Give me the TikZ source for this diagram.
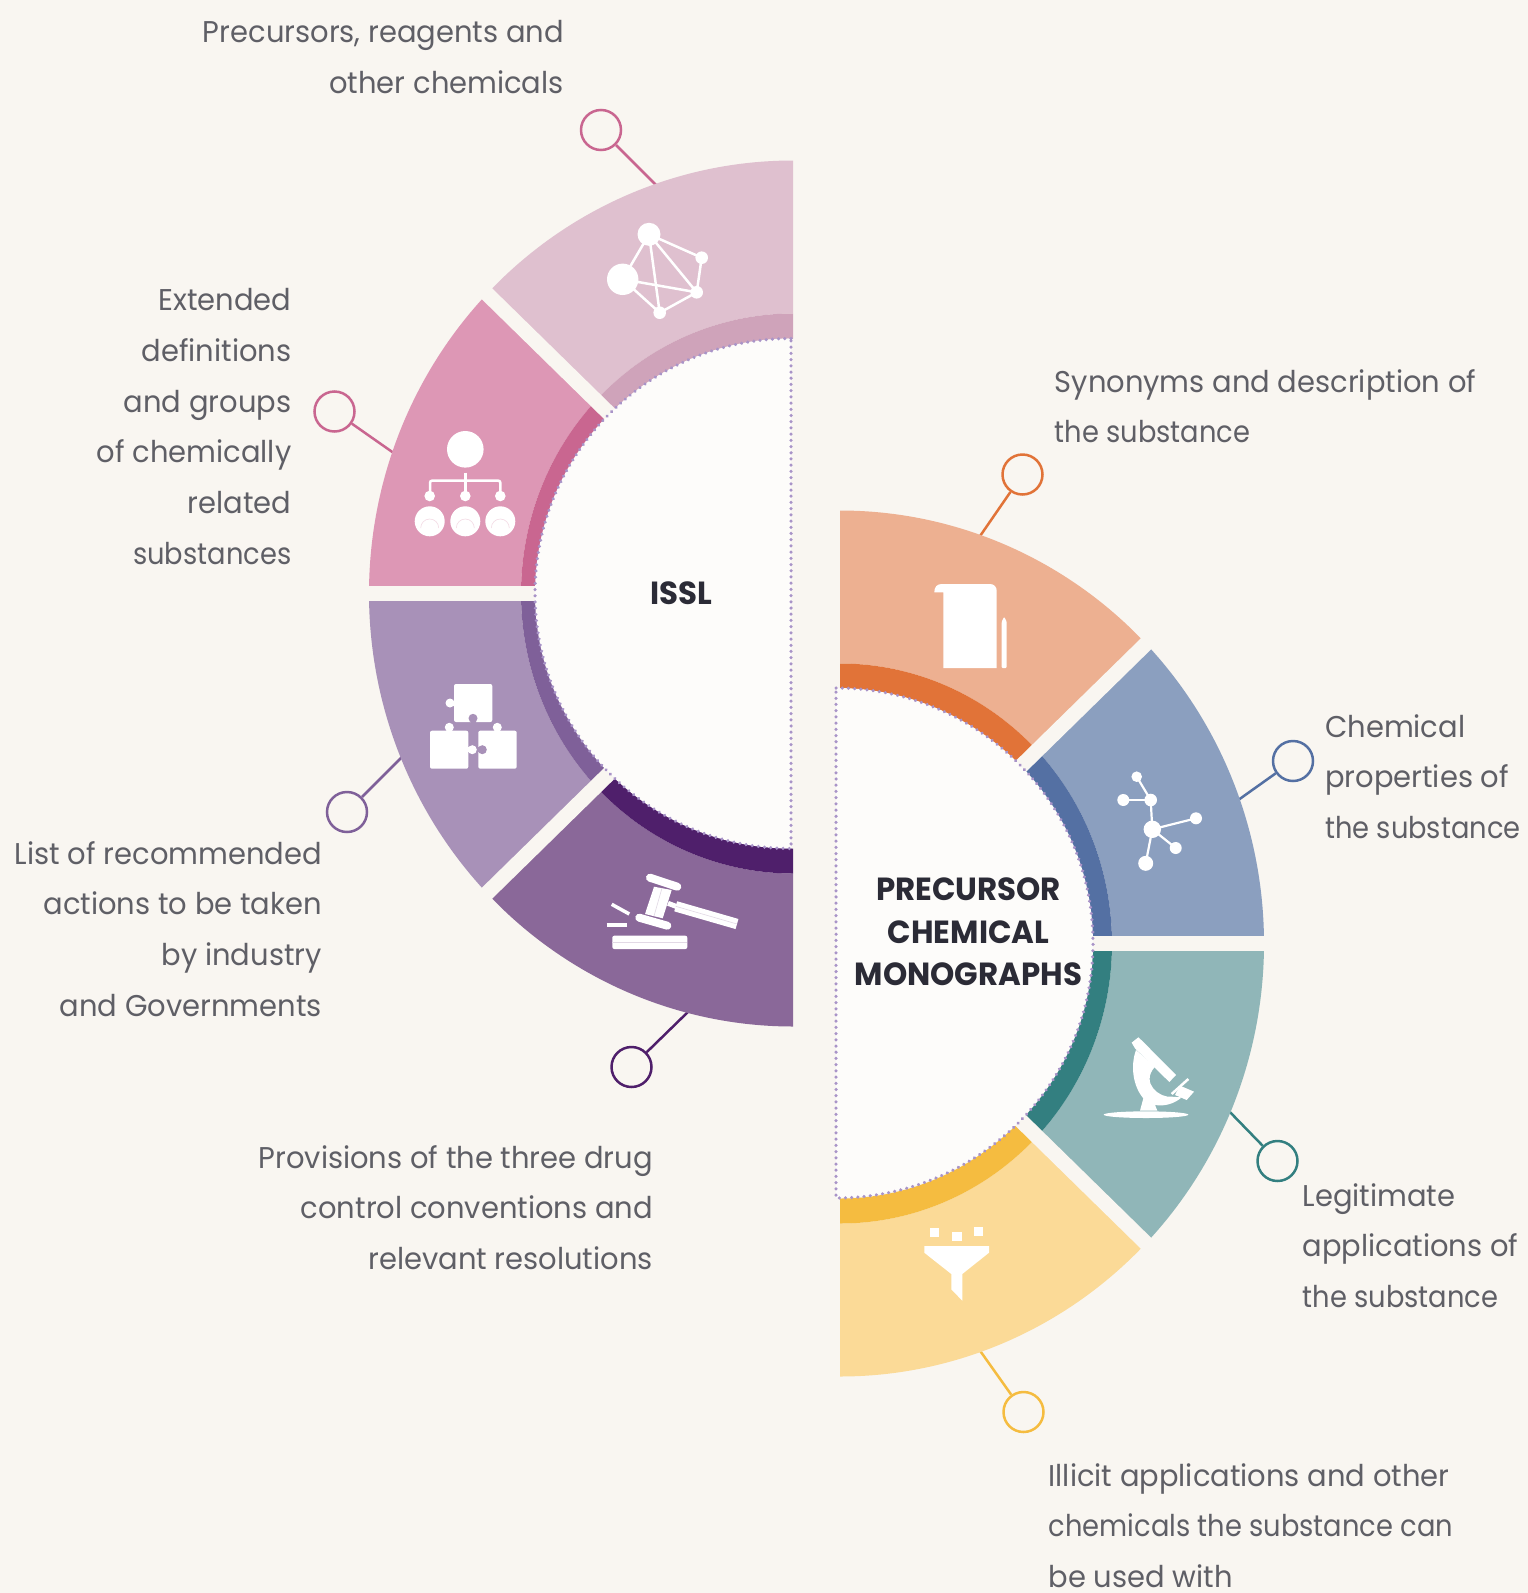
\documentclass[tikz,border=0pt]{standalone}
\usepackage{fontspec}
\setmainfont[FakeStretch=0.965]{Poppins}
\newfontfamily\narrowface[FakeStretch=0.91]{Poppins}
\usetikzlibrary{calc}
\definecolor{pagebg}{HTML}{F9F6F1}
\definecolor{discbg}{HTML}{FDFCFA}
\definecolor{dotc}{HTML}{A994C8}
\definecolor{segA}{HTML}{DFC0CF}
\definecolor{bandA}{HTML}{CFA3BA}
\definecolor{segB}{HTML}{DD97B5}
\definecolor{bandB}{HTML}{C96690}
\definecolor{segC}{HTML}{A891B8}
\definecolor{bandC}{HTML}{7F6099}
\definecolor{segD}{HTML}{8A6899}
\definecolor{bandD}{HTML}{4F1F6B}
\definecolor{segE}{HTML}{EDB091}
\definecolor{bandE}{HTML}{E17338}
\definecolor{segF}{HTML}{8B9FBF}
\definecolor{bandF}{HTML}{5470A3}
\definecolor{segG}{HTML}{90B6B8}
\definecolor{bandG}{HTML}{337F80}
\definecolor{segH}{HTML}{FBDA97}
\definecolor{bandH}{HTML}{F5BC40}
\definecolor{textc}{HTML}{5F5F66}
\definecolor{headc}{HTML}{2B2B36}
\tikzset{
  marker/.style={circle, draw=#1, line width=2.5pt, minimum size=40pt, inner sep=0pt},
  leader/.style={draw=#1, line width=2.5pt},
  labelleft/.style={anchor=north east, align=right, inner sep=0pt, text=textc,
    font=\fontsize{30}{50.8}\selectfont},
  labelright/.style={anchor=north west, align=left, inner sep=0pt, text=textc,
    font=\fontsize{30}{50.8}\selectfont},
  headnode/.style={align=center, inner sep=0pt, text=headc,
    font=\fontsize{32}{42.7}\selectfont\bfseries},
  gapline/.style={draw=pagebg, line width=15pt},
  disc/.style={fill=discbg},
  dotline/.style={draw=dotc, line width=3.5pt, line cap=round, dash pattern=on 0.01pt off 6.2pt},
  iconline/.style={draw=white, line width=#1}
}
\begin{document}
\begin{tikzpicture}[x=1pt,y=-1pt]
  \fill[pagebg] (0,0) rectangle (1528,1593);
  \useasboundingbox (0,0) rectangle (1528,1593);
  \coordinate (leftc) at (793,593.5);
  \coordinate (rightc) at (840,943.5);

  % markers and leaders
  \node[marker=bandB] (m1) at (601,130) {};
  \node[marker=bandB] (m2) at (334.5,411.5) {};
  \node[marker=bandC] (m3) at (347,812) {};
  \node[marker=bandD] (m4) at (631.5,1067) {};
  \node[marker=bandE] (m5) at (1022.5,474.5) {};
  \node[marker=bandF] (m6) at (1293,761) {};
  \node[marker=bandG] (m7) at (1277.5,1161) {};
  \node[marker=bandH] (m8) at (1023.5,1412) {};
  \coordinate (e1) at (661,190);
  \coordinate (e2) at (398,456);
  \coordinate (e3) at (405,754);
  \coordinate (e4) at (692,1008);
  \coordinate (e5) at (978,539);
  \coordinate (e6) at (1234,803);
  \coordinate (e7) at (1226,1108);
  \coordinate (e8) at (976,1345);
  \foreach \a/\c in {1/bandB,2/bandB,3/bandC,4/bandD,5/bandE,6/bandF,7/bandG,8/bandH}
    \draw[leader=\c] (m\a) -- (e\a);

  % ring parts
  \foreach \ta/\tb/\sc/\bc in {270/223.8/segA/bandA,223.8/180/segB/bandB,180/136.2/segC/bandC,136.2/90/segD/bandD}{
    \fill[\sc] ($(leftc)+(\ta:424 and 433)$) arc[start angle=\ta,end angle=\tb,x radius=424,y radius=433]
      -- ($(leftc)+(\tb:272 and 280)$) arc[start angle=\tb,end angle=\ta,x radius=272,y radius=280] -- cycle;
    \fill[\bc] ($(leftc)+(\ta:272 and 280)$) arc[start angle=\ta,end angle=\tb,x radius=272,y radius=280]
      -- ($(leftc)+(\tb:256 and 255)$) arc[start angle=\tb,end angle=\ta,x radius=256,y radius=255] -- cycle;
  }
  \foreach \ta/\tb/\sc/\bc in {-90/-43.8/segE/bandE,-43.8/0/segF/bandF,0/43.8/segG/bandG,43.8/90/segH/bandH}{
    \fill[\sc] ($(rightc)+(\ta:424 and 433)$) arc[start angle=\ta,end angle=\tb,x radius=424,y radius=433]
      -- ($(rightc)+(\tb:272 and 280)$) arc[start angle=\tb,end angle=\ta,x radius=272,y radius=280] -- cycle;
    \fill[\bc] ($(rightc)+(\ta:272 and 280)$) arc[start angle=\ta,end angle=\tb,x radius=272,y radius=280]
      -- ($(rightc)+(\tb:250 and 255)$) arc[start angle=\tb,end angle=\ta,x radius=250,y radius=255] -- cycle;
  }
  % gaps between the parts
  \draw[gapline] (leftc) -- ++(-340,-333);
  \draw[gapline] (leftc) -- ++(-340,333);
  \draw[gapline] (leftc) -- ++(-440,0);
  \draw[gapline] (rightc) -- ++(340,-333);
  \draw[gapline] (rightc) -- ++(340,333);
  \draw[gapline] (rightc) -- ++(440,0);

  % discs
  \fill[disc] (791,338.5) arc[start angle=270,end angle=90,x radius=256,y radius=255] -- cycle;
  \fill[disc] (836,688) arc[start angle=-90,end angle=90,x radius=257,y radius=255] -- cycle;
  \draw[dotline] (791,338.5) arc[start angle=270,end angle=90,x radius=256,y radius=255] -- cycle;
  \draw[dotline] (836,688) arc[start angle=-90,end angle=90,x radius=257,y radius=255] -- cycle;

  \node[headnode] (issl) at (681,593) {ISSL};
  \node[headnode] (pcm) at (968.5,932) {PRECURSOR\\CHEMICAL\\MONOGRAPHS};

  % labels
  \node[labelleft] (t1) at (564,20) {Precursors, reagents and\\other chemicals};
  \node[labelleft] (t2) at (291.5,288) {Extended\\definitions\\and groups\\of chemically\\related\\{\narrowface substances}};
  \node[labelleft] (t3) at (322,841) {List of recommended\\actions to be taken\\by industry\\and Governments};
  \node[labelleft] (t4) at (653,1145) {Provisions of the three drug\\control conventions and\\relevant resolutions};
  \node[labelright] (t5) at (1054.5,369) {Synonyms and description of\\{\narrowface the substance}};
  \node[labelright] (t6) at (1325,714) {Chemical\\properties of\\{\narrowface the substance}};
  \node[labelright] (t7) at (1302.5,1183) {Legitimate\\applications of\\{\narrowface the substance}};
  \node[labelright] (t8) at (1048.5,1463) {Illicit applications and other\\{\narrowface chemicals the substance can}\\be used with};

  % network icon
  \coordinate (na) at (622.7,279.3);
  \coordinate (nb) at (649,234.3);
  \coordinate (nc) at (701.7,257.7);
  \coordinate (nd) at (696.7,292.3);
  \coordinate (ne) at (659.7,312.7);
  \foreach \p/\q in {na/nb,na/nd,na/ne,nb/nc,nb/nd,nb/ne,nc/nd,nd/ne}
    \draw[iconline=2.5pt] (\p) -- (\q);
  \fill[white] (na) circle (15.7);
  \fill[white] (nb) circle (11.5);
  \foreach \p in {nc,nd,ne} \fill[white] (\p) circle (6.3);

  % tree icon
  \fill[white] (465.3,449.3) circle (18.3);
  \draw[iconline=2.5pt, rounded corners=2pt] (430,496) -- (430,480.7) -- (500.3,480.7) -- (500.3,496);
  \draw[iconline=2.5pt] (465.3,472.7) -- (465.3,496);
  \foreach \x in {429.7,465.3,500.3}{
    \fill[white] (\x,496) circle (5.3);
    \fill[white] (\x,521.3) circle (15);
    \draw[segB!35, line width=0.6pt] (\x-9,528) arc[start angle=180,end angle=360,radius=9];
  }

  % puzzle icon
  \fill[white, rounded corners=2pt] (454,684) rectangle (492.3,722);
  \fill[white] (450,703) circle (4.5);
  \fill[white] (449,700.5) rectangle (456,705.5);
  \fill[segC] (473,718.3) circle (4.5);
  \fill[segC] (470.5,718.3) rectangle (475.5,723);
  \fill[white, rounded corners=2pt] (430,730.7) rectangle (468.3,768.7);
  \fill[white] (449.3,727.3) circle (4.5);
  \fill[white] (446.8,727.3) rectangle (451.8,732);
  \fill[white] (472.3,749.7) circle (4.5);
  \fill[white] (467,747.2) rectangle (472.3,752.2);
  \fill[white, rounded corners=2pt] (478.3,730.7) rectangle (516.7,768.7);
  \fill[white] (497.3,727.3) circle (4.5);
  \fill[white] (494.8,727.3) rectangle (499.8,732);
  \fill[segC] (482.3,749.7) circle (4.5);
  \fill[segC] (477.5,747.2) rectangle (482.3,752.2);

  % gavel icon
  \draw[iconline=8pt, line cap=round] (650,877.7) -- (677.3,886.7);
  \draw[iconline=8pt, line cap=round] (639.3,917.7) -- (667.3,925.7);
  \fill[white] (654,886.7) -- (671.7,890) -- (662.7,918.3) -- (645,914) -- cycle;
  \draw[iconline=5pt] (668,903.3) -- (677,906.7);
  \draw[iconline=10.5pt] (675.7,906.3) -- (737,924);
  \draw[segD!25, line width=0.6pt] (675.7,906.3) -- (737,924);
  \draw[segD!25, line width=0.6pt] (662,888) -- (654,916);
  \fill[white, rounded corners=2pt] (612.3,935.7) rectangle (687.3,949);
  \draw[segD!25, line width=0.6pt] (612.3,942.5) -- (687.3,942.5);
  \draw[iconline=3.5pt] (611.7,904.3) -- (629.3,914);
  \draw[iconline=3.5pt] (606.7,925) -- (626.7,925);

  % document icon
  \fill[white] (934.3,592.3) .. controls (934.3,587) and (937,584) .. (941.7,584) -- (990,584)
    .. controls (994,584) and (996.7,587) .. (996.7,590.7) -- (996.7,668) -- (943.3,668) -- (943.3,592.3) -- cycle;
  \fill[white, rounded corners=1pt] (1001.7,668) -- (1001.7,621.7) -- (1004.2,616.7) -- (1006.7,621.7) -- (1006.7,668) -- cycle;

  % molecule icon
  \coordinate (ma) at (1136.7,776.7);
  \coordinate (mb) at (1123.3,800);
  \coordinate (mc) at (1150.7,800);
  \coordinate (md) at (1152.3,829.3);
  \coordinate (me) at (1196,818.3);
  \coordinate (mf) at (1175.7,848);
  \coordinate (mg) at (1145.7,863.3);
  \foreach \p/\q in {ma/mc,mb/mc,mc/md,md/me,md/mf,md/mg}
    \draw[iconline=2.2pt] (\p) -- (\q);
  \fill[white] (ma) circle (5.3);
  \fill[white] (mb) circle (6);
  \fill[white] (mc) circle (6.3);
  \fill[white] (md) circle (8.7);
  \fill[white] (me) circle (6);
  \fill[white] (mf) circle (6);
  \fill[white] (mg) circle (7.5);

  % microscope icon
  \begin{scope}[shift={(1080,1020)},x=1/3 pt,y=-1/3 pt]
    \fill[white] (198,284) ellipse [x radius=127,y radius=10];
    \fill[white] (155,68) -- (175,52) -- (186,62) -- (288,165) -- (268,186) -- (165,85) -- cycle;
    \fill[white] (168,90) .. controls (150,140) and (160,200) .. (190,235) -- (180,272) -- (232,272) -- (225,255)
      .. controls (255,260) and (285,250) .. (305,232) -- (275,230) .. controls (240,235) and (180,190) .. (225,140) -- cycle;
    \draw[iconline=2.5pt] (275,222) -- (325,177);
    \fill[white] (300,197) -- (342,215) -- (320,240) -- (285,225) -- cycle;
  \end{scope}

  % funnel icon
  \fill[white] (930,1228) rectangle (939.3,1236.7);
  \fill[white] (952.3,1231.7) rectangle (961.7,1240.7);
  \fill[white] (973.7,1226.7) rectangle (982.7,1235.7);
  \fill[white] (924.3,1246) -- (989,1246) -- (989,1252.7) -- (962.3,1274) -- (962.3,1300.7)
    -- (951.3,1289.3) -- (951.3,1274) -- (924.3,1252.7) -- cycle;
\end{tikzpicture}
\end{document}
